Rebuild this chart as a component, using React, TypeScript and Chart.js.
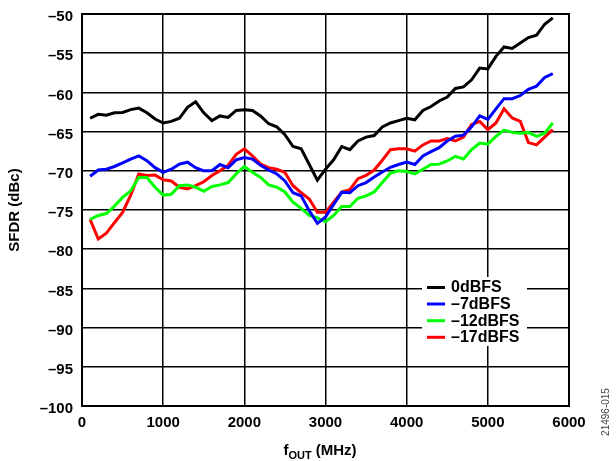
import React, { useEffect, useRef } from "react";
import { Chart, registerables } from "chart.js";

Chart.register(...registerables);

// Output frequency, MHz
const freqMHz = [
  100, 200, 300, 400, 500, 600, 700, 800, 900, 1000,
  1100, 1200, 1300, 1400, 1500, 1600, 1700, 1800, 1900, 2000,
  2100, 2200, 2300, 2400, 2500, 2600, 2700, 2800, 2900, 3000,
  3100, 3200, 3300, 3400, 3500, 3600, 3700, 3800, 3900, 4000,
  4100, 4200, 4300, 4400, 4500, 4600, 4700, 4800, 4900, 5000,
  5100, 5200, 5300, 5400, 5500, 5600, 5700, 5800,
];

// SFDR (dBc) at each output level
const sfdr0dBFS = [
  -63.3, -62.8, -62.9, -62.6, -62.55, -62.2, -62.0, -62.6, -63.4, -63.9,
  -63.7, -63.3, -61.9, -61.2, -62.6, -63.6, -63.0, -63.2, -62.3, -62.2,
  -62.3, -63.0, -64.0, -64.4, -65.4, -66.9, -67.2, -69.2, -71.2, -69.8,
  -68.6, -66.9, -67.3, -66.2, -65.7, -65.5, -64.4, -63.9, -63.6, -63.3,
  -63.5, -62.3, -61.8, -61.1, -60.6, -59.5, -59.3, -58.4, -56.9, -57.0,
  -55.4, -54.2, -54.4, -53.7, -53.0, -52.7, -51.3, -50.5,
];

const sfdrMinus7dBFS = [
  -70.7, -69.9, -69.8, -69.45, -69.0, -68.5, -68.1, -68.7, -69.6, -70.2,
  -69.8, -69.15, -68.9, -69.6, -70.0, -70.0, -69.2, -69.6, -68.6, -68.3,
  -68.5, -69.3, -69.9, -70.4, -71.3, -72.8, -73.2, -75.1, -76.7, -75.9,
  -74.3, -72.75, -72.8, -71.9, -71.5, -70.8, -70.15, -69.55, -69.2, -68.9,
  -69.2, -68.1, -67.55, -67.05, -66.2, -65.6, -65.45, -64.4, -63.0, -63.45,
  -62.1, -60.8, -60.8, -60.4, -59.6, -59.2, -58.1, -57.6,
];

const sfdrMinus12dBFS = [
  -76.2, -75.7, -75.45, -74.5, -73.4, -72.55, -70.85, -70.85, -72.1, -73.1,
  -73.0, -71.9, -71.8, -72.1, -72.6, -72.0, -71.8, -71.5, -70.4, -69.45,
  -70.2, -70.85, -71.8, -72.1, -72.7, -74.0, -74.8, -75.7, -76.0, -76.5,
  -75.7, -74.55, -74.55, -73.5, -73.2, -72.7, -71.5, -70.3, -70.0, -70.1,
  -70.4, -69.8, -69.2, -69.15, -68.75, -68.15, -68.5, -67.3, -66.45, -66.6,
  -65.6, -64.8, -65.1, -65.2, -65.1, -65.6, -65.2, -63.9,
];

const sfdrMinus17dBFS = [
  -76.2, -78.7, -77.95, -76.6, -75.3, -73.1, -70.4, -70.6, -70.55, -71.15,
  -71.3, -72.1, -72.3, -71.9, -71.4, -70.6, -70.0, -69.3, -67.9, -67.2,
  -68.1, -69.15, -69.6, -69.8, -70.2, -71.9, -72.8, -73.6, -75.3, -75.3,
  -74.0, -72.7, -72.4, -71.0, -70.6, -69.9, -68.65, -67.3, -67.2, -67.2,
  -67.5, -66.7, -66.2, -66.2, -65.9, -66.2, -65.7, -64.1, -63.7, -64.75,
  -63.9, -62.1, -63.25, -63.7, -66.4, -66.7, -65.7, -64.75,
];

const seriesLabels = ["0dBFS", "\u20137dBFS", "\u201312dBFS", "\u201317dBFS"];
const seriesColors = ["#000000", "#0000ff", "#00ff00", "#ff0000"];
const seriesValues = [sfdr0dBFS, sfdrMinus7dBFS, sfdrMinus12dBFS, sfdrMinus17dBFS];

const xTitleMain = "f";
const xTitleSub = "OUT";
const xTitleUnit = " (MHz)";
const yTitle = "SFDR (dBc)";
const figureId = "21496-015";

const FONT = "'Liberation Sans', Arial, sans-serif";

const annotations = {
  id: "sfdrAnnotations",
  beforeDatasetsDraw(chart: any) {
    const { ctx, chartArea } = chart;
    ctx.save();
    ctx.strokeStyle = "#000";
    ctx.lineWidth = 2;
    ctx.strokeRect(chartArea.left, chartArea.top, chartArea.right - chartArea.left, chartArea.bottom - chartArea.top);
    ctx.restore();
  },
  afterDatasetsDraw(chart: any) {
    const { ctx, chartArea } = chart;
    ctx.save();

    // legend box
    ctx.fillStyle = "#fff";
    ctx.fillRect(422, 277, 105, 69);
    const rowY = [287.5, 304, 320.7, 337.3];
    chart.data.datasets.forEach((ds: any, i: number) => {
      ctx.strokeStyle = ds.borderColor;
      ctx.lineWidth = 3;
      ctx.beginPath();
      ctx.moveTo(427, rowY[i]);
      ctx.lineTo(445, rowY[i]);
      ctx.stroke();
      ctx.fillStyle = "#000";
      ctx.font = `bold 16px ${FONT}`;
      ctx.textBaseline = "middle";
      ctx.textAlign = "left";
      ctx.fillText(ds.label, 451, rowY[i] + 0.5);
    });

    // y axis title
    ctx.fillStyle = "#000";
    ctx.save();
    ctx.translate(15, (chartArea.top + chartArea.bottom) / 2);
    ctx.rotate(-Math.PI / 2);
    ctx.font = `bold 15px ${FONT}`;
    ctx.textAlign = "center";
    ctx.textBaseline = "middle";
    ctx.fillText(yTitle, 0, 0);
    ctx.restore();

    // x axis title with subscript
    ctx.textBaseline = "alphabetic";
    ctx.textAlign = "left";
    const mainFont = `bold 15px ${FONT}`;
    const subFont = `bold 11px ${FONT}`;
    ctx.font = mainFont;
    const wMain = ctx.measureText(xTitleMain).width;
    const wUnit = ctx.measureText(xTitleUnit).width;
    ctx.font = subFont;
    const wSub = ctx.measureText(xTitleSub).width;
    const total = wMain + wSub + wUnit;
    let x = 320 - total / 2;
    const base = 455;
    ctx.font = mainFont;
    ctx.fillText(xTitleMain, x, base);
    x += wMain;
    ctx.font = subFont;
    ctx.fillText(xTitleSub, x, base + 4);
    x += wSub;
    ctx.font = mainFont;
    ctx.fillText(xTitleUnit, x, base);

    // figure number
    ctx.save();
    ctx.translate(606, 412);
    ctx.rotate(-Math.PI / 2);
    ctx.font = `10px ${FONT}`;
    ctx.fillStyle = "#444";
    ctx.textAlign = "center";
    ctx.textBaseline = "middle";
    ctx.fillText(figureId, 0, 0);
    ctx.restore();

    ctx.restore();
  },
};

export default function App() {
  const canvasRef = useRef<HTMLCanvasElement | null>(null);

  useEffect(() => {
    if (!canvasRef.current) return;
    const datasets = seriesValues.map((vals, i) => ({
      label: seriesLabels[i],
      data: freqMHz.map((f, j) => ({ x: f, y: vals[j] })),
      borderColor: seriesColors[i],
      backgroundColor: seriesColors[i],
      borderWidth: 3,
      pointRadius: 0,
      tension: 0,
      fill: false,
    }));

    const chart = new Chart(canvasRef.current, {
      type: "line",
      data: { datasets },
      options: {
        responsive: false,
        animation: false,
        layout: { padding: { left: 0, right: 47, top: 14, bottom: 0 } },
        plugins: { legend: { display: false }, tooltip: { enabled: false } },
        scales: {
          x: {
            type: "linear",
            min: 0,
            max: 6000,
            afterFit: (s: any) => {
              s.height = 55;
              s.paddingLeft = 0;
              s.paddingRight = 0;
            },
            ticks: {
              stepSize: 1000,
              padding: 8,
              color: "#000",
              font: { family: FONT, size: 15, weight: "bold" },
              maxRotation: 0,
              callback: (v: any) => String(v),
            },
            grid: { color: "#000", lineWidth: 1.5, drawTicks: false },
            border: { color: "#000", width: 2 },
          },
          y: {
            min: -100,
            max: -50,
            afterFit: (s: any) => {
              s.width = 82;
              s.paddingTop = 0;
              s.paddingBottom = 0;
            },
            ticks: {
              stepSize: 5,
              padding: 9,
              labelOffset: 3,
              color: "#000",
              font: { family: FONT, size: 15, weight: "bold" },
              callback: (v: any) => (Number(v) < 0 ? "\u2013" + Math.abs(Number(v)) : String(v)),
            },
            grid: { color: "#000", lineWidth: 1.5, drawTicks: false },
            border: { color: "#000", width: 2 },
          },
        },
      },
      plugins: [annotations],
    });
    return () => chart.destroy();
  }, []);

  return (
    <div style={{ position: "fixed", left: 0, top: 0, width: 616, height: 461, background: "#fff" }}>
      <canvas ref={canvasRef} width={616} height={461} />
    </div>
  );
}
